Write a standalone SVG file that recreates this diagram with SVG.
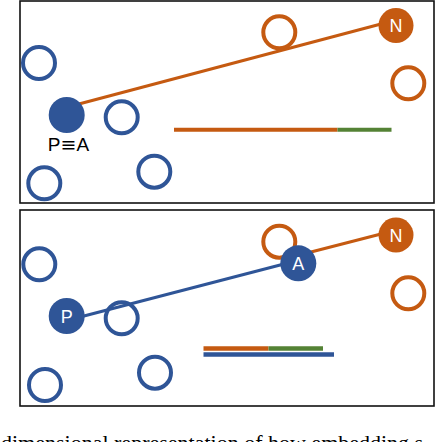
<svg xmlns="http://www.w3.org/2000/svg" width="436" height="442" viewBox="0 0 436 442">
<style>
.frame{fill:#fff;stroke:#111;stroke-width:1.6}
.hb{fill:none;stroke:#2F5597;stroke-width:4}
.ho{fill:none;stroke:#C55A11;stroke-width:4}
.fb{fill:#2F5597}
.fo{fill:#C55A11}
.lbl{font-family:"Liberation Sans",Arial,sans-serif;font-size:18px;fill:#fff;text-anchor:middle}
.blk{font-family:"Liberation Sans",Arial,sans-serif;font-size:19px;fill:#000;text-anchor:middle}
.eq{font-family:"DejaVu Sans",sans-serif}
.cap{font-family:"Liberation Serif","Times New Roman",serif;font-size:22px;fill:#000}
.lo{stroke:#C55A11;stroke-width:3;fill:none}
.lb{stroke:#2F5597;stroke-width:3;fill:none}
</style>
<rect class="frame" x="20" y="1" width="414" height="202"/>
<rect class="frame" x="20" y="210" width="414" height="196"/>
<g id="connectors">
<line class="lo" x1="77" y1="104.5" x2="381" y2="24"/>
<line class="lb" x1="82" y1="316.5" x2="284" y2="264"/>
<line class="lo" x1="311" y1="252" x2="381" y2="234"/>
<line x1="174" y1="129.7" x2="337.5" y2="129.7" stroke="#C55A11" stroke-width="4"/>
<line x1="337.5" y1="129.7" x2="391.5" y2="129.7" stroke="#548235" stroke-width="4"/>
<line x1="203.5" y1="348.5" x2="268.5" y2="348.5" stroke="#C55A11" stroke-width="4.5"/>
<line x1="268.5" y1="348.5" x2="323" y2="348.5" stroke="#548235" stroke-width="4.5"/>
<line x1="203.5" y1="354.5" x2="334" y2="354.5" stroke="#2F5597" stroke-width="4.3"/>
</g>
<g id="top-b1"><circle class="hb" cx="39" cy="63" r="16"/></g>
<g id="top-PA"><circle class="fb" cx="66.7" cy="115" r="18"/><text class="blk" x="68.5" y="151">P<tspan class="eq">≡</tspan>A</text></g>
<g id="top-b2"><circle class="hb" cx="121.7" cy="117.3" r="16"/></g>
<g id="top-b3"><circle class="hb" cx="154.3" cy="171.7" r="16"/></g>
<g id="top-b4"><circle class="hb" cx="44.3" cy="183.3" r="16"/></g>
<g id="top-o1"><circle class="ho" cx="279.3" cy="32.3" r="16"/></g>
<g id="top-N"><circle class="fo" cx="396" cy="25.5" r="17.5"/><text class="lbl" x="396" y="32">N</text></g>
<g id="top-o2"><circle class="ho" cx="408.3" cy="83.3" r="16"/></g>
<g id="bot-b1"><circle class="hb" cx="39.3" cy="264.3" r="16"/></g>
<g id="bot-P"><circle class="fb" cx="66.7" cy="316" r="18"/><text class="lbl" x="66.7" y="322.5">P</text></g>
<g id="bot-b2"><circle class="hb" cx="121.7" cy="318.3" r="16"/></g>
<g id="bot-b3"><circle class="hb" cx="155" cy="372.7" r="16"/></g>
<g id="bot-b4"><circle class="hb" cx="45" cy="385" r="16"/></g>
<g id="bot-o1"><circle class="ho" cx="279.3" cy="241.7" r="16"/></g>
<g id="bot-A"><circle class="fb" cx="298.3" cy="263.3" r="18"/><text class="lbl" x="298.3" y="269.8">A</text></g>
<g id="bot-N"><circle class="fo" cx="396" cy="235" r="17.5"/><text class="lbl" x="396" y="241.5">N</text></g>
<g id="bot-o2"><circle class="ho" cx="408.3" cy="293.3" r="16"/></g>
<text class="cap" x="1" y="450">dimensional representation of how embedding s</text>
</svg>
